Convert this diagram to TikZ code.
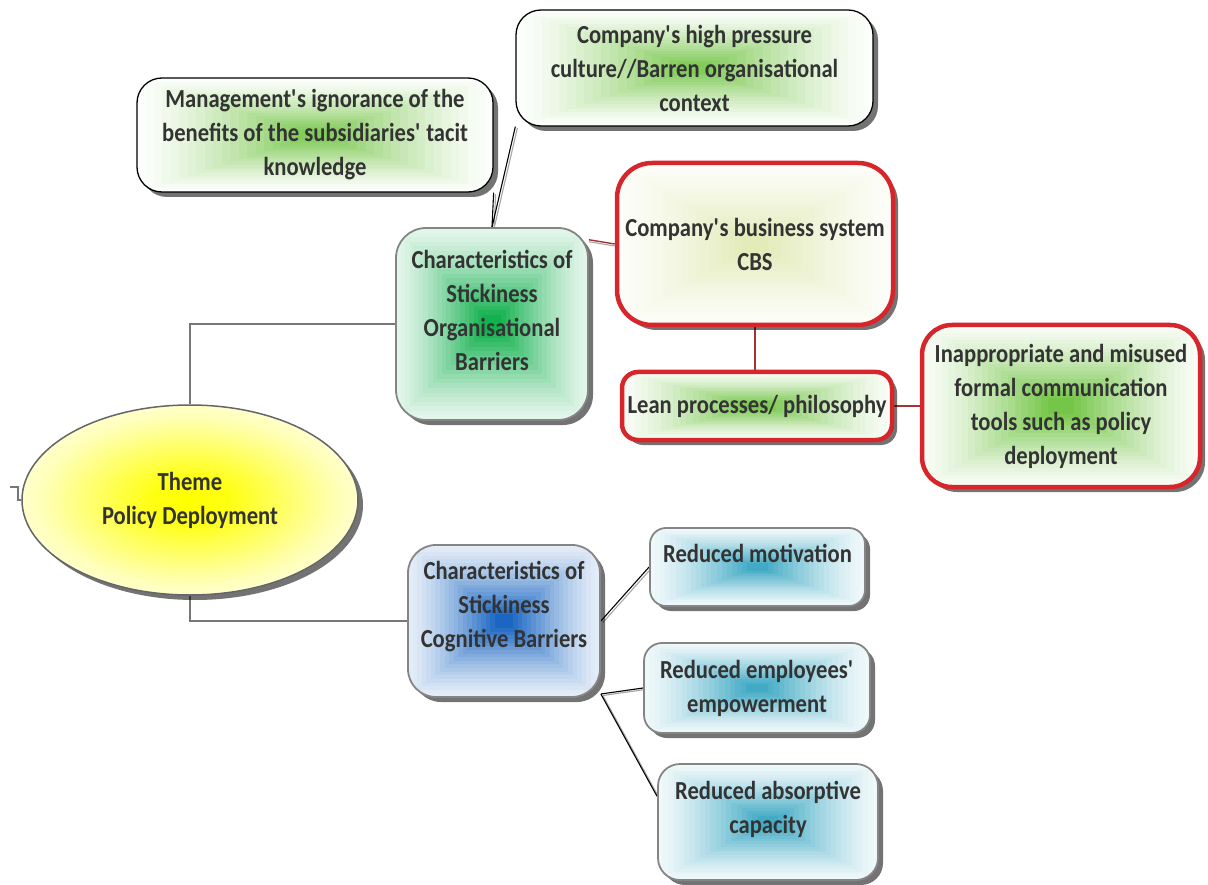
\documentclass[tikz,border=0pt]{standalone}
\usepackage{fontspec}
\setmainfont{Carlito}[FakeStretch=0.87]
\usetikzlibrary{shapes.geometric,shadows,calc,backgrounds}

\definecolor{ink}{HTML}{333333}
\definecolor{rim}{HTML}{858585}
\definecolor{redrim}{HTML}{D7262B}
\definecolor{orgC}{HTML}{12B04E}
\definecolor{cogC}{HTML}{1A66C2}
\definecolor{leafC}{HTML}{6DC23E}
\definecolor{cbsC}{HTML}{DCE6A8}
\definecolor{tealC}{HTML}{38A6C2}
\definecolor{wire}{HTML}{777777}
\definecolor{redwire}{HTML}{A33434}

% soft yellow glow for the central theme
\pgfdeclareradialshading{yolk}{\pgfpoint{0bp}{0bp}}{%
  color(0bp)=(yellow); color(6bp)=(yellow!92!white);
  color(14bp)=(yellow!60!white); color(22bp)=(yellow!28!white);
  color(30bp)=(yellow!8!white); color(50bp)=(white)}

% stepped fill shrinking toward the centre: colour, centre strength, rim strength
\newcommand\nestfill[3]{%
  \foreach \k in {0,...,19}{%
    \pgfmathsetmacro\pc{#3+(#2-#3)*(\k/19)^1.3}%
    \fill[#1!\pc!white, sharp corners]
      ($(path picture bounding box.south west)!\k/42!(path picture bounding box.north east)$)
      rectangle
      ($(path picture bounding box.north east)!\k/42!(path picture bounding box.south west)$);
  }}

\newcommand\q{\textquotesingle}

\begin{document}
\begin{tikzpicture}[x=1pt,y=-1pt,
  tx/.style={font=\fontsize{26}{34}\selectfont\bfseries, text=ink, align=center},
  lift/.style={drop shadow={shadow xshift=5pt, shadow yshift=-5pt, opacity=0.55, fill=black}},
  box/.style={rectangle, inner sep=0pt, tx, lift},
  greybox/.style={box, draw=rim, line width=1.8pt},
  blackbox/.style={box, draw=black, line width=1.3pt},
  redbox/.style={box, draw=redrim, line width=4.5pt},
  wireline/.style={draw=wire, line width=1.5pt},
  twin/.style={draw=black, line width=1.1pt,
    preaction={draw=gray!70, line width=1.1pt, transform canvas={xshift=2pt, yshift=-1.5pt}}},
  redtwin/.style={draw=redwire, line width=1.4pt,
    preaction={draw=gray!70, line width=1.1pt, transform canvas={yshift=-2pt}}},
  redbar/.style={draw=redwire, line width=2.5pt}
]
\useasboundingbox (0,0) rectangle (1208,885);

% central theme
\node[ellipse, draw=gray!80!black, line width=1.5pt, shading=yolk, lift, tx,
      minimum width=336pt, minimum height=190pt, inner sep=0pt]
  (theme) at (190,500) {Theme\\Policy Deployment};

% organisational branch
\node[greybox, path picture={\nestfill{orgC}{100}{12}},
      minimum width=192pt, minimum height=192pt, rounded corners=30pt,
      label={[tx,yshift=14pt]center:{Characteristics of\\Stickiness\\Organisational\\Barriers}}]
  (org) at (492,324) {};

\node[blackbox, path picture={\nestfill{leafC}{85}{2}},
      minimum width=356pt, minimum height=114pt, rounded corners=25pt]
  (mgmt) at (315,135) {Management\q s ignorance of the\\benefits of the subsidiaries\q{} tacit\\knowledge};

\node[blackbox, path picture={\nestfill{leafC}{85}{2}},
      minimum width=357pt, minimum height=116pt, rounded corners=25pt]
  (culture) at (694.5,68) {Company\q s high pressure\\culture//Barren organisational\\context};

\node[redbox, path picture={\nestfill{cbsC}{80}{8}},
      minimum width=276pt, minimum height=162pt, rounded corners=35pt]
  (cbs) at (755,244) {Company\q s business system\\CBS};

\node[redbox, path picture={\nestfill{leafC}{90}{5}},
      minimum width=270pt, minimum height=68pt, rounded corners=16pt]
  (lean) at (757,406) {Lean processes/ philosophy};

\node[redbox, path picture={\nestfill{leafC}{95}{5}},
      minimum width=278pt, minimum height=162pt, rounded corners=30pt]
  (inapp) at (1061,406) {Inappropriate and misused\\formal communication\\tools such as policy\\deployment};

% cognitive branch
\node[greybox, path picture={\nestfill{cogC}{100}{12}},
      minimum width=192pt, minimum height=152pt, rounded corners=28pt,
      label={[tx,yshift=14pt]center:{Characteristics of\\Stickiness\\Cognitive Barriers}}]
  (cog) at (504,621) {};

\node[greybox, path picture={\nestfill{tealC}{95}{8}},
      minimum width=215pt, minimum height=78pt, rounded corners=16pt,
      label={[tx,yshift=14pt]center:Reduced motivation}]
  (motiv) at (757.5,567) {};

\node[greybox, path picture={\nestfill{tealC}{95}{8}},
      minimum width=226pt, minimum height=90pt, rounded corners=18pt]
  (empow) at (757,688) {Reduced employees\q\\empowerment};

\node[greybox, path picture={\nestfill{tealC}{95}{8}},
      minimum width=220pt, minimum height=116pt, rounded corners=22pt,
      label={[tx,yshift=13pt]center:{Reduced absorptive\\capacity}}]
  (absorb) at (768,822) {};

\coordinate (stub) at (10,487);

% connectors, kept behind the boxes
\begin{scope}[on background layer]
  \draw[wireline] (theme.north) |- (org.west);
  \draw[wireline] (theme.south) |- (cog.west);
  \draw[wireline] (stub) -- ++(8,0) |- (theme.west);
  \draw[twin] (org.north) -- (mgmt.south east);
  \draw[twin] (org.north) -- (culture.south west);
  \draw[redtwin] (org.41) -- (cbs.west);
  \draw[redbar] (cbs.south) -- (cbs.south |- lean.north);
  \draw[redbar] (lean.east) -- (inapp.west);
  \draw[twin] (cog.east) -- (motiv.west);
  \draw[twin] (cog.-37) -- (empow.west);
  \draw[twin] (cog.-37) -- (absorb.167);
\end{scope}
\end{tikzpicture}
\end{document}
